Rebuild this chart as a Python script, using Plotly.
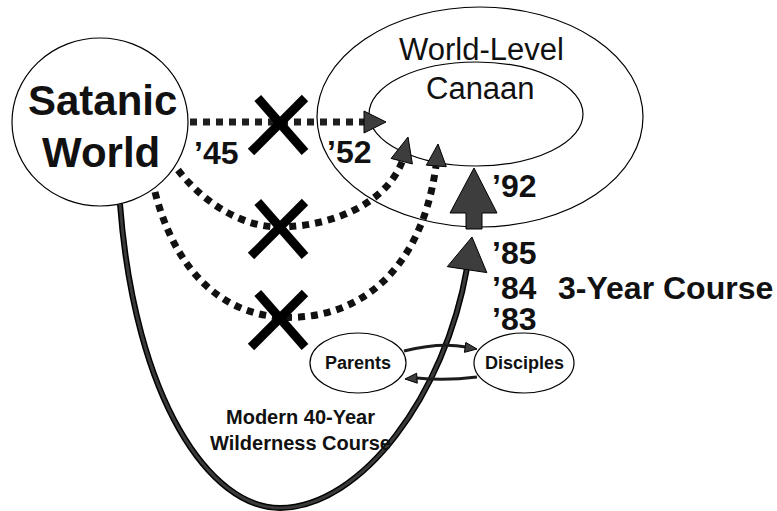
import math
import plotly.graph_objects as go

# ---------------- content ----------------
origin_lines = ["Satanic", "World"]
goal_outer = "World-Level"
goal_inner = "Canaan"
failed_years = ["\u201945", "\u201952"]
course_years = ["\u201992", "\u201985", "\u201984", "\u201983"]
course_label = "3-Year Course"
people = ["Parents", "Disciples"]
wilderness_label = "Modern 40-Year<br>Wilderness Course"

# ---------------- geometry (pixel space) ----------------
W, H = 777, 511
FONT = "Liberation Sans, Arial, Helvetica, sans-serif"
DARK = "#1c1c1c"
FILL = "#3d3d3d"

shapes = []
annotations = []


def ellipse(cx, cy, rx, ry, width=1.2):
    shapes.append(dict(type="circle", xref="x", yref="y",
                       x0=cx - rx, x1=cx + rx, y0=cy - ry, y1=cy + ry,
                       line=dict(color="black", width=width)))


def path(d, color=DARK, width=3, dash="solid", fill=None):
    s = dict(type="path", xref="x", yref="y", path=d,
             line=dict(color=color, width=width, dash=dash))
    if fill:
        s["fillcolor"] = fill
    shapes.append(s)


def head(tip, frm, length, half, fill=FILL, lw=1):
    dx, dy = tip[0] - frm[0], tip[1] - frm[1]
    n = math.hypot(dx, dy)
    ux, uy = dx / n, dy / n
    bx, by = tip[0] - ux * length, tip[1] - uy * length
    px, py = -uy, ux
    p1 = (bx + px * half, by + py * half)
    p2 = (bx - px * half, by - py * half)
    d = f"M {tip[0]},{tip[1]} L {p1[0]},{p1[1]} L {p2[0]},{p2[1]} Z"
    path(d, color="black", width=lw, fill=fill)


def cross(cx, cy, r=27, w=9):
    path(f"M {cx-r},{cy+r} L {cx+r},{cy-r}", color="black", width=w)
    path(f"M {cx-r*0.75},{cy-r} L {cx+r},{cy+r}", color="black", width=w)


def text(x, y, s, size, bold=True, height=None):
    a = dict(x=x, y=y, xref="x", yref="y", text=(f"<b>{s}</b>" if bold else s),
             showarrow=False, xanchor="center", yanchor="middle",
             font=dict(family=FONT, size=size, color="#111"))
    if height:
        a["height"] = height
        a["valign"] = "middle"
    annotations.append(a)


# ellipses
ellipse(100, 122, 88, 84)          # satanic world
ellipse(480, 117, 163, 110)        # world-level
ellipse(476, 114, 107, 52)         # canaan
ellipse(358, 363, 48, 30)          # parents
ellipse(524, 363, 50, 30)          # disciples

DOTS = "7px,6px"
# dotted course 1 ('45 -> '52)
path("M 190,122 L 364,122", width=7, dash=DOTS, color="#1e1e1e")
head((386, 122), (364, 122), 22, 11)
# dotted course 2
path("M 178,170 C 205,205 245,227 278,227 C 330,227 385,205 402,162", width=7, dash=DOTS, color="#111")
head((408, 137), (400, 168), 25, 11)
# dotted course 3
path("M 155,192 C 175,270 220,312 278,317 C 350,322 420,280 436,166", width=7, dash=DOTS, color="#111")
head((438, 144), (436, 170), 22, 10)

# crosses
cross(278, 125)
cross(278, 229)
cross(278, 320)

# wilderness curve
wild = "M 120,204 C 135,400 210,508 280,508 C 362,507 445,395 467,268"
path(wild, color="black", width=6)
path(wild, color="#3a3a3a", width=3)
head((472, 237), (467, 270), 33, 20)

# big arrow '85 -> '92
path("M 466,229 L 466,213 L 450,213 L 474,168 L 497,213 L 482,213 L 482,229 Z",
     color="black", width=1, fill=FILL)

# parents <-> disciples
path("M 404,351 Q 440,342 466,347", width=3)
head((477, 349), (462, 347), 12, 5)
path("M 477,377 Q 445,381 417,378", width=3)
head((405, 379), (420, 378), 12, 5)

# texts
text(102, 100, origin_lines[0], 42)
text(101, 152, origin_lines[1], 42)
text(481, 49, goal_outer, 31, bold=False)
text(480, 88, goal_inner, 31, bold=False)
text(216, 153, failed_years[0], 32)
text(349, 152, failed_years[1], 32)
for yy, lab in zip([186, 253, 288, 319], course_years):
    text(514, yy, lab, 32, height=30)
text(665, 288, course_label, 32)
text(358, 363, people[0], 18)
text(524, 363, people[1], 18)
text(300, 430, wilderness_label, 20)

fig = go.Figure()
fig.update_layout(
    width=W, height=H,
    margin=dict(l=0, r=0, t=0, b=0),
    paper_bgcolor="white", plot_bgcolor="white",
    xaxis=dict(range=[0, W], visible=False, fixedrange=True),
    yaxis=dict(range=[H, 0], visible=False, fixedrange=True),
    shapes=shapes, annotations=annotations, showlegend=False,
)
fig.write_html(
    "out.html",
    config={"displayModeBar": False},
    post_script="document.body.style.margin='0';document.body.style.padding='0';document.body.style.overflow='hidden';",
)
